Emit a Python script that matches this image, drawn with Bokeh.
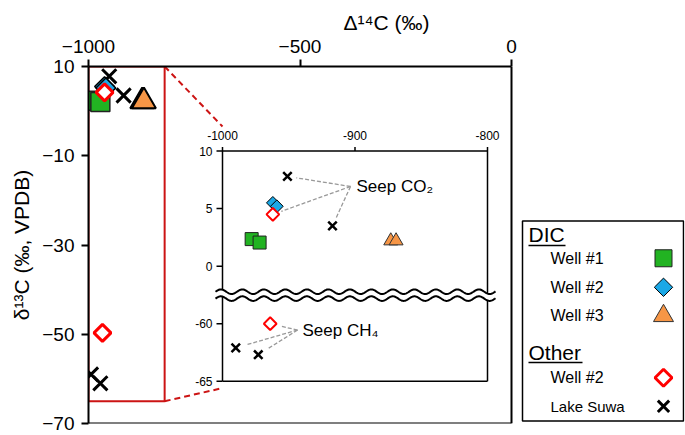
import numpy as np
from bokeh.plotting import figure
from bokeh.models import Range1d, FixedTicker, Title
from bokeh.embed import file_html
from bokeh.resources import INLINE
from bokeh.core.properties import value

FONT = "Liberation Sans"

# ---------------- data ----------------
well1_d14c = [-978, -972]
well1_d13c = [2.35, 2.05]
well2_d14c = [-962, -959]
well2_d13c = [5.5, 5.2]
well3_d14c = [-873, -869]
well3_d13c = [2.2, 2.2]
other_well2_d14c = [-962, -964]
other_well2_d13c = [4.5, -60.0]
suwa_d14c = [-951, -917, -990, -973]
suwa_d13c = [7.8, 3.5, -62.1, -62.7]

# overview panel as drawn (CH4 points sit differently there)
main_other_well2_d14c = [-962, -967]
main_other_well2_d13c = [4.2, -49.7]
main_suwa_d14c = [-951, -917, -994, -972]
main_suwa_d13c = [7.8, 3.5, -59.0, -61.0]

x_ticks = [-1000, -500, 0]
y_ticks = [10, -10, -30, -50, -70]
x_limits = (-1000, 0)
y_limits = (-70, 10)
inset_x_ticks = [-1000, -900, -800]
inset_y_ticks_upper = [10, 5, 0]
inset_y_ticks_lower = [-60, -65]
zoom_box = dict(left=-1000, right=-820, bottom=-65, top=10)

x_title = "Δ¹⁴C (‰)"
y_title = "δ¹³C (‰, VPDB)"
legend_headings = ["DIC", "Other"]
legend_labels = ["Well #1", "Well #2", "Well #3", "Well #2", "Lake Suwa"]
co2_label = "Seep CO₂"
ch4_label = "Seep CH₄"

GREEN = "#22b322"
BLUE = "#1ba8e6"
ORANGE = "#f79646"
RED = "#ff0000"
BOXRED = "#cc1414"
GREY = "#999999"

# ---------------- layout constants (canvas pixels) ----------------
W, H = 685, 435
FL, FR, FT, FB = 88, 511, 66, 423          # main panel box
FRAME_R = 684                               # right edge of drawing frame
SCALE_Y = (FB - FT) / (429 - 66)


def RY(y):  # reference-picture y -> canvas y
    return FT + (y - 66) * SCALE_Y


IL, IR = 222, 487                           # inset x=-1000 / -800
IT, IB = RY(152), RY(386)                   # inset y=10 (upper) / y=-65 (lower)
SX = (IR - IL) / 200.0
SY = (RY(269) - RY(152)) / 10.0
BRK_T, BRK_B = RY(295.0), RY(302.0)
BRK_C = 0.5 * (BRK_T + BRK_B)

PXX = (FR - FL) / (x_limits[1] - x_limits[0])
x_end = x_limits[1] + (FRAME_R - FR) / PXX

ix_start = -1000 - (IL - FL) / SX
ix_end = -800 + (FRAME_R - IR) / SX
iu_top = 10 + (IT - FT) / SY
iu_bot = 10 - (FB - IT) / SY
il_top = -65 + (IB - FT) / SY
il_bot = -65 - (FB - IB) / SY


def up_y(py):
    return 10 - (py - IT) / SY


def lo_y(py):
    return -65 + (IB - py) / SY


def in_x(px):
    return -1000 + (px - IL) / SX


def main_x(px):
    return x_limits[0] + (px - FL) / PXX


def main_y(py):
    return y_limits[1] - (py - FT) / (FB - FT) * (y_limits[1] - y_limits[0])


p = figure(width=W, height=H, x_range=Range1d(x_limits[0], x_end), y_range=Range1d(*y_limits),
           x_axis_location="above", output_backend="svg", toolbar_location=None,
           min_border_left=FL, min_border_right=W - FRAME_R, min_border_top=FT,
           min_border_bottom=H - FB)
p.background_fill_color = "white"
p.border_fill_color = "white"
p.grid.visible = False
p.outline_line_color = None
p.xaxis.ticker = FixedTicker(ticks=x_ticks)
p.yaxis.ticker = FixedTicker(ticks=y_ticks)
p.xaxis.bounds = x_limits
p.yaxis.bounds = y_limits
for ax in (p.xaxis[0], p.yaxis[0]):
    ax.axis_line_width = 2
    ax.major_tick_line_width = 2
    ax.major_tick_out = 7
    ax.major_tick_in = 0
    ax.minor_tick_out = 0
    ax.minor_tick_in = 0
    ax.major_label_text_font = FONT
    ax.major_label_text_font_size = "19px"
    ax.major_label_text_color = "black"
    ax.major_label_standoff = 7

# axis titles centred on the main box (not on the wider frame)
box_cx = 0.5 * (FL + FR)
frame_cx = 0.5 * (FL + FRAME_R)
p.add_layout(Title(text=x_title, align="center", offset=box_cx - frame_cx, standoff=6,
                   text_font=FONT, text_font_size="21px", text_font_style="normal",
                   text_color="black"), "above")
p.add_layout(Title(text=y_title, align="center", offset=22, standoff=14,
                   text_font=FONT, text_font_size="21px", text_font_style="normal",
                   text_color="black"), "left")

p.extra_x_ranges = {"ix": Range1d(ix_start, ix_end), "lx": Range1d(FL, FRAME_R)}
p.extra_y_ranges = {"iu": Range1d(iu_bot, iu_top), "il": Range1d(il_bot, il_top),
                    "ly": Range1d(FB, FT)}

# main box right and bottom edges
p.segment(x0=[x_limits[1], x_limits[0]], y0=[y_limits[1], y_limits[0]],
          x1=[x_limits[1], x_limits[1]], y1=[y_limits[0], y_limits[0]],
          line_color="black", line_width=2)

# ---- overview panel ----
p.quad(**zoom_box, fill_color=None, line_color=BOXRED, line_width=2)
cx = main_x(IL)
p.segment(x0=[zoom_box["right"]] * 2, y0=[zoom_box["top"], zoom_box["bottom"]],
          x1=[cx, cx], y1=[main_y(RY(127)), main_y(RY(393))],
          line_color=BOXRED, line_width=2, line_dash="6 4")

p.scatter(main_suwa_d14c, main_suwa_d13c, marker="x", size=20, line_color="black", line_width=3)
p.scatter(well1_d14c, well1_d13c, marker="square", size=19, fill_color=GREEN,
          line_color="#222222", line_width=1.5)
p.scatter(well3_d14c, well3_d13c, marker="triangle", size=24, fill_color=ORANGE,
          line_color="black", line_width=2)
p.scatter(well2_d14c, well2_d13c, marker="square", angle=np.pi / 4, size=14,
          fill_color=BLUE, line_color="black", line_width=1.5)
p.scatter(main_other_well2_d14c, main_other_well2_d13c, marker="square", angle=np.pi / 4,
          size=12, fill_color="white", line_color=RED, line_width=3)

# ---- inset frame ----
kw_u = dict(x_range_name="ix", y_range_name="iu")
kw_l = dict(x_range_name="ix", y_range_name="il")
yb_u = up_y(BRK_C)
yb_l = lo_y(BRK_C)
p.segment(x0=[-1000, -1000, -800], y0=[10, 10, 10], x1=[-800, -1000, -800], y1=[10, yb_u, yb_u],
          line_color="black", line_width=1.5, **kw_u)
p.segment(x0=[-1000, -800, -1000], y0=[yb_l, yb_l, -65], x1=[-1000, -800, -800], y1=[-65, -65, -65],
          line_color="black", line_width=1.5, **kw_l)
p.segment(x0=inset_x_ticks, y0=[10] * 3, x1=inset_x_ticks, y1=[10 + 4 / SY] * 3,
          line_color="black", line_width=1.5, **kw_u)
p.segment(x0=[-1000 - 6 / SX] * 3, y0=inset_y_ticks_upper, x1=[-1000] * 3, y1=inset_y_ticks_upper,
          line_color="black", line_width=1.5, **kw_u)
p.segment(x0=[-1000 - 6 / SX] * 2, y0=inset_y_ticks_lower, x1=[-1000] * 2, y1=inset_y_ticks_lower,
          line_color="black", line_width=1.5, **kw_l)
p.text(x=inset_x_ticks, y=[up_y(RY(136))] * 3, text=[str(t) for t in inset_x_ticks],
       text_font=value(FONT), text_font_size="12px", text_align="center", text_baseline="middle",
       text_color="black", **kw_u)
p.text(x=[in_x(IL - 10)] * 3, y=inset_y_ticks_upper, text=[str(t) for t in inset_y_ticks_upper],
       text_font=value(FONT), text_font_size="12px", text_align="right", text_baseline="middle",
       text_color="black", **kw_u)
p.text(x=[in_x(IL - 10)] * 2, y=inset_y_ticks_lower, text=[str(t) for t in inset_y_ticks_lower],
       text_font=value(FONT), text_font_size="12px", text_align="right", text_baseline="middle",
       text_color="black", **kw_l)

# axis break (decorative wavy double line)
wx = np.linspace(in_x(IL - 7), in_x(IR + 8), 400)
phase = 2 * np.pi * (wx - wx[0]) * SX / 21.5
w1 = up_y(BRK_T) + (2.3 / SY) * np.sin(phase)
w2 = up_y(BRK_B) + (2.3 / SY) * np.sin(phase)
p.varea(x=wx, y1=w1, y2=w2, fill_color="white", **kw_u)
p.line(wx, w1, line_color="black", line_width=2, **kw_u)
p.line(wx, w2, line_color="black", line_width=2, **kw_u)


def split(xs, ys):
    up = [(x, y) for x, y in zip(xs, ys) if y > -20]
    lo = [(x, y) for x, y in zip(xs, ys) if y <= -20]
    return ([a for a, _ in up], [b for _, b in up]), ([a for a, _ in lo], [b for _, b in lo])


(sux, suy), (slx, sly) = split(suwa_d14c, suwa_d13c)
(oux, ouy), (olx, oly) = split(other_well2_d14c, other_well2_d13c)


def leaders(ax, ay, tx, ty, gap):
    x0, y0, x1, y1 = [], [], [], []
    for x, y in zip(tx, ty):
        dxp = (ax - x) * SX
        dyp = (ay - y) * SY
        L = np.hypot(dxp, dyp)
        x0.append(ax)
        y0.append(ay)
        x1.append(x + dxp / L * gap / SX)
        y1.append(y + dyp / L * gap / SY)
    return dict(x0=x0, y0=y0, x1=x1, y1=y1)


co2_ax, co2_ay = in_x(350), up_y(RY(188))
ch4_ax, ch4_ay = in_x(297), lo_y(RY(334))
p.segment(**leaders(co2_ax, co2_ay, sux + oux, suy + ouy, 9), line_color=GREY,
          line_width=1.3, line_dash="4 2", **kw_u)
p.segment(**leaders(ch4_ax, ch4_ay, olx + slx, oly + sly, 11), line_color=GREY,
          line_width=1.3, line_dash="4 2", **kw_l)
p.text(x=[in_x(356)], y=[up_y(RY(188))], text=[co2_label], text_font=value(FONT),
       text_font_size="17px", text_baseline="middle", text_align="left", text_color="black", **kw_u)
p.text(x=[in_x(302)], y=[lo_y(RY(334.5))], text=[ch4_label], text_font=value(FONT),
       text_font_size="17px", text_baseline="middle", text_align="left", text_color="black", **kw_l)

for kw, (sx_, sy_) in ((kw_u, (sux, suy)), (kw_l, (slx, sly))):
    p.scatter(sx_, sy_, marker="x", size=12, line_color="black", line_width=2.5, **kw)
p.scatter(well1_d14c, well1_d13c, marker="square", size=13, fill_color=GREEN,
          line_color="#222222", line_width=1, **kw_u)
p.scatter(well3_d14c, well3_d13c, marker="triangle", size=14, fill_color=ORANGE,
          line_color="#333333", line_width=1, **kw_u)
p.scatter(well2_d14c, well2_d13c, marker="square", angle=np.pi / 4, size=9,
          fill_color=BLUE, line_color="black", line_width=1, **kw_u)
p.scatter(oux, ouy, marker="square", angle=np.pi / 4, size=9, fill_color="white",
          line_color=RED, line_width=2, **kw_u)
p.scatter(olx, oly, marker="square", angle=np.pi / 4, size=9, fill_color="white",
          line_color=RED, line_width=2, **kw_l)

# ---------------- legend (canvas-pixel ranges) ----------------
kw_g = dict(x_range_name="lx", y_range_name="ly")
p.quad(left=522, right=FRAME_R - 1, top=RY(223), bottom=RY(426.5), fill_color=None,
       line_color="black", line_width=1.5, **kw_g)
p.text(x=[528] * 2, y=[RY(237), RY(357)], text=legend_headings, text_font=value(FONT),
       text_font_size="21px", text_baseline="middle", text_color="black", **kw_g)
p.segment(x0=[528] * 2, y0=[RY(248), RY(367)], x1=[528 + 37, 528 + 54],
          y1=[RY(248), RY(367)], line_color="black", line_width=1.5, **kw_g)
item_y = [RY(261), RY(290.5), RY(319.5), RY(382.5), RY(411.5)]
p.text(x=[550] * 4, y=item_y[:4], text=legend_labels[:4], text_font=value(FONT),
       text_font_size="16px", text_baseline="middle", text_color="black", **kw_g)
p.text(x=[550], y=item_y[4:], text=legend_labels[4:], text_font=value(FONT),
       text_font_size="15px", text_baseline="middle", text_color="black", **kw_g)
mx = 663
p.scatter([mx], [item_y[0]], marker="square", size=17, fill_color=GREEN, line_color="#222222",
          line_width=1, **kw_g)
p.scatter([mx], [item_y[1]], marker="square", angle=np.pi / 4, size=13, fill_color=BLUE,
          line_color="black", line_width=1, **kw_g)
p.scatter([mx], [item_y[2]], marker="triangle", size=20, fill_color=ORANGE, line_color="#333333",
          line_width=1, **kw_g)
p.scatter([mx], [item_y[3]], marker="square", angle=np.pi / 4, size=12, fill_color="white",
          line_color=RED, line_width=3, **kw_g)
p.scatter([mx], [item_y[4]], marker="x", size=16, line_color="black", line_width=3, **kw_g)

open("out.html", "w").write(file_html(p, INLINE))
